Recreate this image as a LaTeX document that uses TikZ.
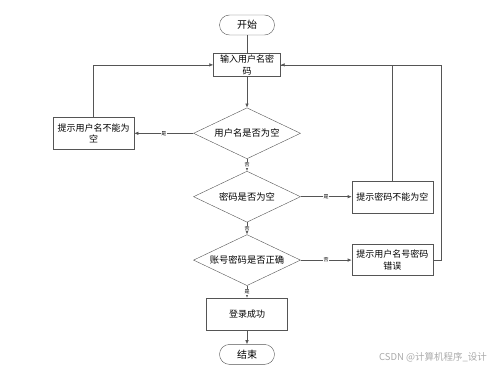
\documentclass[tikz,border=0pt]{standalone}
\usepackage{fontspec}
\setmainfont{Noto Sans CJK SC}
\usepackage{xcolor}
\definecolor{cLine}{HTML}{555555}
\definecolor{cMark}{HTML}{AAAAAA}
\usepackage{tikz}
\usetikzlibrary{positioning,arrows.meta,shapes.geometric}
\tikzset{
  node-term/.style={draw=cLine,rounded corners=10pt,minimum width=55pt,
    minimum height=20pt,align=center,font=\fontsize{10}{12}\selectfont},
  node-box/.style={draw=cLine,minimum width=81pt,minimum height=32pt,
    inner sep=1pt,align=center,font=\fontsize{9}{11.5}\selectfont},
  node-input/.style={node-box,minimum width=67pt,minimum height=23pt},
  node-test/.style={draw=cLine,diamond,aspect=2.1,inner sep=0.5pt,
    minimum width=107pt,minimum height=51pt,font=\fontsize{9.3}{11}\selectfont},
  edge-label/.style={fill=white,inner sep=0.5pt,font=\fontsize{5}{6}\selectfont},
  line/.style={draw=cLine,line width=0.6pt},
  arrow/.style={line,-{Latex[length=4pt,width=3.5pt]}},
}

\begin{document}
\begin{tikzpicture}[x=1pt,y=-1pt]
  \useasboundingbox (0,0) rectangle (500,366);
  \node[node-term] (start) at (247,25) {开始};
  \node[node-input,below=18pt of start] (input) {输入用户名密\\码};
  \node[node-test,below=31pt of input] (user) {用户名是否为空};
  \node[node-test,below=12pt of user] (pass) {密码是否为空};
  \node[node-test,below=12pt of pass] (check) {账号密码是否正确};
  \node[node-box,below=12pt of check] (ok) {登录成功};
  \node[node-term,below=14pt of ok] (end) {结束};
  \node[node-box,left=59pt of user] (userMsg) {提示用户名不能为\\空};
  \node[node-box,right=51pt of pass] (passMsg) {提示密码不能为空};
  \node[node-box,right=51pt of check,minimum height=31pt] (errMsg) {提示用户名号密码\\错误};
  \node[text=cMark,font=\fontsize{9.5}{11}\selectfont] (mark) at (433,357) {CSDN @计算机程序\_设计};

  \draw[line] (start) -- (input);
  \draw[arrow] (input) -- (user);
  \draw[arrow] (user) -- node[edge-label] {是} (userMsg);
  \draw[arrow] (userMsg.north) |- (input.west);
  \draw[arrow] (user) -- node[edge-label] {否} (pass);
  \draw[arrow] (pass) -- node[edge-label] {是} (passMsg);
  \draw[arrow] (passMsg.north) |- (input.east);
  \draw[arrow] (pass) -- node[edge-label] {否} (check);
  \draw[arrow] (check) -- node[edge-label] {否} (errMsg);
  \draw[line] (errMsg.east) -- ++(8,0) |- (input.east);
  \draw[arrow] (check) -- node[edge-label] {是} (ok);
  \draw[arrow] (ok) -- (end);
\end{tikzpicture}
\end{document}
